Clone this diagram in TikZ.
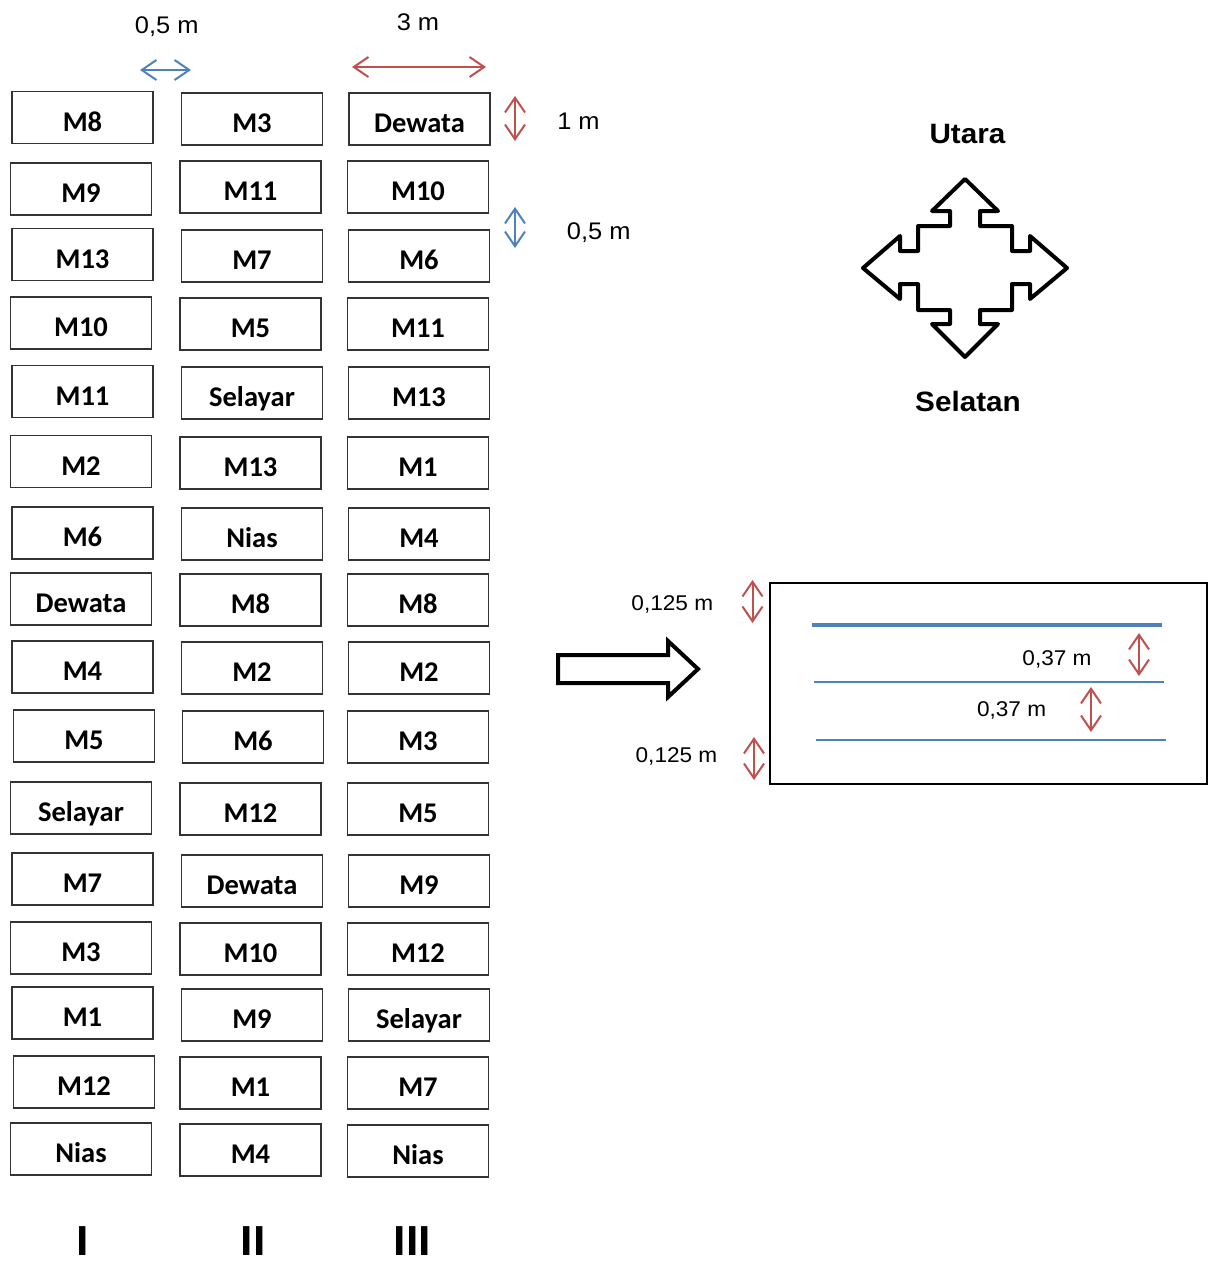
\documentclass[tikz,border=0pt]{standalone}
\usepackage{fontspec}
\setmainfont[FakeStretch=1.06]{Liberation Sans}
\newfontfamily\boxfont{Carlito}
\usetikzlibrary{arrows.meta}
\definecolor{dimred}{HTML}{C0504D}
\definecolor{dimblue}{HTML}{4F81BD}
\begin{document}
\begin{tikzpicture}[x=0.75pt,y=-0.75pt,
  plotbox/.style={draw=black!80, line width=1.1pt, minimum width=105.75pt, minimum height=39pt, inner sep=0pt,
    font=\boxfont\bfseries\fontsize{21.4}{22}\selectfont, text height=20.6pt, text depth=0pt},
  lab/.style={inner sep=0pt, font=\fontsize{18}{20}\selectfont, text height=12.9pt, text depth=0pt},
  plab/.style={inner sep=0pt, font=\fontsize{16}{18}\selectfont, text height=11.45pt, text depth=0pt},
  compasslab/.style={inner sep=0pt, font=\bfseries\fontsize{21}{24}\selectfont, text height=15pt, text depth=0pt},
  roman/.style={inner sep=0pt, font=\bfseries\fontsize{31.5}{34}\selectfont, text height=22.5pt, text depth=0pt},
  dimr/.style={draw=dimred, line width=1.5pt, {Straight Barb[length=11pt,width=15pt]}-{Straight Barb[length=11pt,width=15pt]}},
  dimb/.style={draw=dimblue, line width=1.5pt, {Straight Barb[length=11pt,width=15pt]}-{Straight Barb[length=11pt,width=15pt]}},
  rowline/.style={draw=dimblue, line width=1.3pt},
  outline/.style={draw=black, line width=3pt, line join=miter}
]
\useasboundingbox (0,0) rectangle (1211,1261);

% plot boxes
\foreach \x/\y/\t [count=\i] in {
  82.5/117.5/M8, 81/189/M9, 82.5/254.5/M13, 81/323/M10, 82.5/391.5/M11, 81/461.5/M2,
  82.5/533/M6, 81/599/Dewata, 82.5/667/M4, 84/736/M5, 81/808/Selayar, 82.5/879/M7,
  81/948/M3, 82.5/1013/M1, 84/1082/M12, 81/1149/Nias,
  252/119/M3, 250.5/187/M11, 252/256/M7, 250.5/324/M5, 252/393/Selayar, 250.5/463/M13,
  252/534/Nias, 250.5/600/M8, 252/668/M2, 253/737/M6, 250.5/809/M12, 252/881/Dewata,
  250.5/949/M10, 252/1015/M9, 250.5/1083/M1, 250.5/1150/M4,
  419.5/119/Dewata, 418/187/M10, 419/256/M6, 418/324/M11, 419/393/M13, 418/463/M1,
  419/534/M4, 418/600/M8, 419/668/M2, 418/737/M3, 418/809/M5, 419/881/M9,
  418/949/M12, 419/1015/Selayar, 418/1083/M7, 418/1151/Nias}
  \node[plotbox] (b\i) at (\x,\y) {\t};

% column numerals
\node[roman] (c1) at (82.5,1240) {I};
\node[roman] (c2) at (253,1240) {II};
\node[roman] (c3) at (412.5,1240) {III};

% dimension arrows, top
\coordinate (hb1) at (140,70); \coordinate (hb2) at (191,70);
\draw[dimb] (hb1) -- (hb2);
\node[lab] (l05a) at (166.7,25) {0,5 m};
\coordinate (hr1) at (352,67); \coordinate (hr2) at (486,67);
\draw[dimr] (hr1) -- (hr2);
\node[lab] (l3) at (418,22) {3 m};
\coordinate (vr1) at (515,96); \coordinate (vr2) at (515,141);
\draw[dimr] (vr1) -- (vr2);
\node[lab] (l1) at (578.5,120.5) {1 m};
\coordinate (vb1) at (515,207); \coordinate (vb2) at (515,248);
\draw[dimb] (vb1) -- (vb2);
\node[lab] (l05b) at (598.7,231) {0,5 m};

% compass
\begin{scope}[shift={(965,268)}]
\draw[outline, line join=round]
 (0,-89) -- (-33,-57) -- (-15,-57) -- (-15,-42) -- (-47,-42) -- (-47,-17) -- (-65,-17) -- (-65,-32)
 -- (-102,0) -- (-65,31) -- (-65,16) -- (-47,16) -- (-47,42) -- (-15,42) -- (-15,56) -- (-33,56)
 -- (0,89) -- (33,56) -- (15,56) -- (15,42) -- (47,42) -- (47,16) -- (65,16) -- (65,31)
 -- (102,0) -- (65,-32) -- (65,-17) -- (47,-17) -- (47,-42) -- (15,-42) -- (15,-57) -- (33,-57) -- cycle;
\end{scope}
\node[compasslab] (north) at (967.5,133) {Utara};
\node[compasslab] (south) at (968,401) {Selatan};

% block arrow
\draw[outline] (558,655) -- (668,655) -- (668,641) -- (698,669) -- (668,697) -- (668,683) -- (558,683) -- cycle;

% bed detail
\draw[line width=1.1pt] (770,583) rectangle (1207,784);
\coordinate (r1a) at (812,625); \coordinate (r1b) at (1162,625);
\draw[rowline, line width=3pt] (r1a) -- (r1b);
\coordinate (r2a) at (814,682); \coordinate (r2b) at (1164,682);
\draw[rowline] (r2a) -- (r2b);
\coordinate (r3a) at (816,740); \coordinate (r3b) at (1166,740);
\draw[rowline] (r3a) -- (r3b);

\coordinate (p1a) at (752.5,580); \coordinate (p1b) at (752.5,623);
\draw[dimr] (p1a) -- (p1b);
\node[plab] (lp1) at (672.3,602.5) {0,125 m};
\coordinate (p2a) at (1139,633); \coordinate (p2b) at (1139,676);
\draw[dimr] (p2a) -- (p2b);
\node[plab] (lp2) at (1057,657.5) {0,37 m};
\coordinate (p3a) at (1091,687); \coordinate (p3b) at (1091,732);
\draw[dimr] (p3a) -- (p3b);
\node[plab] (lp3) at (1011.6,709) {0,37 m};
\coordinate (p4a) at (754,737); \coordinate (p4b) at (754,780);
\draw[dimr] (p4a) -- (p4b);
\node[plab] (lp4) at (676.5,754.7) {0,125 m};
\end{tikzpicture}
\end{document}
